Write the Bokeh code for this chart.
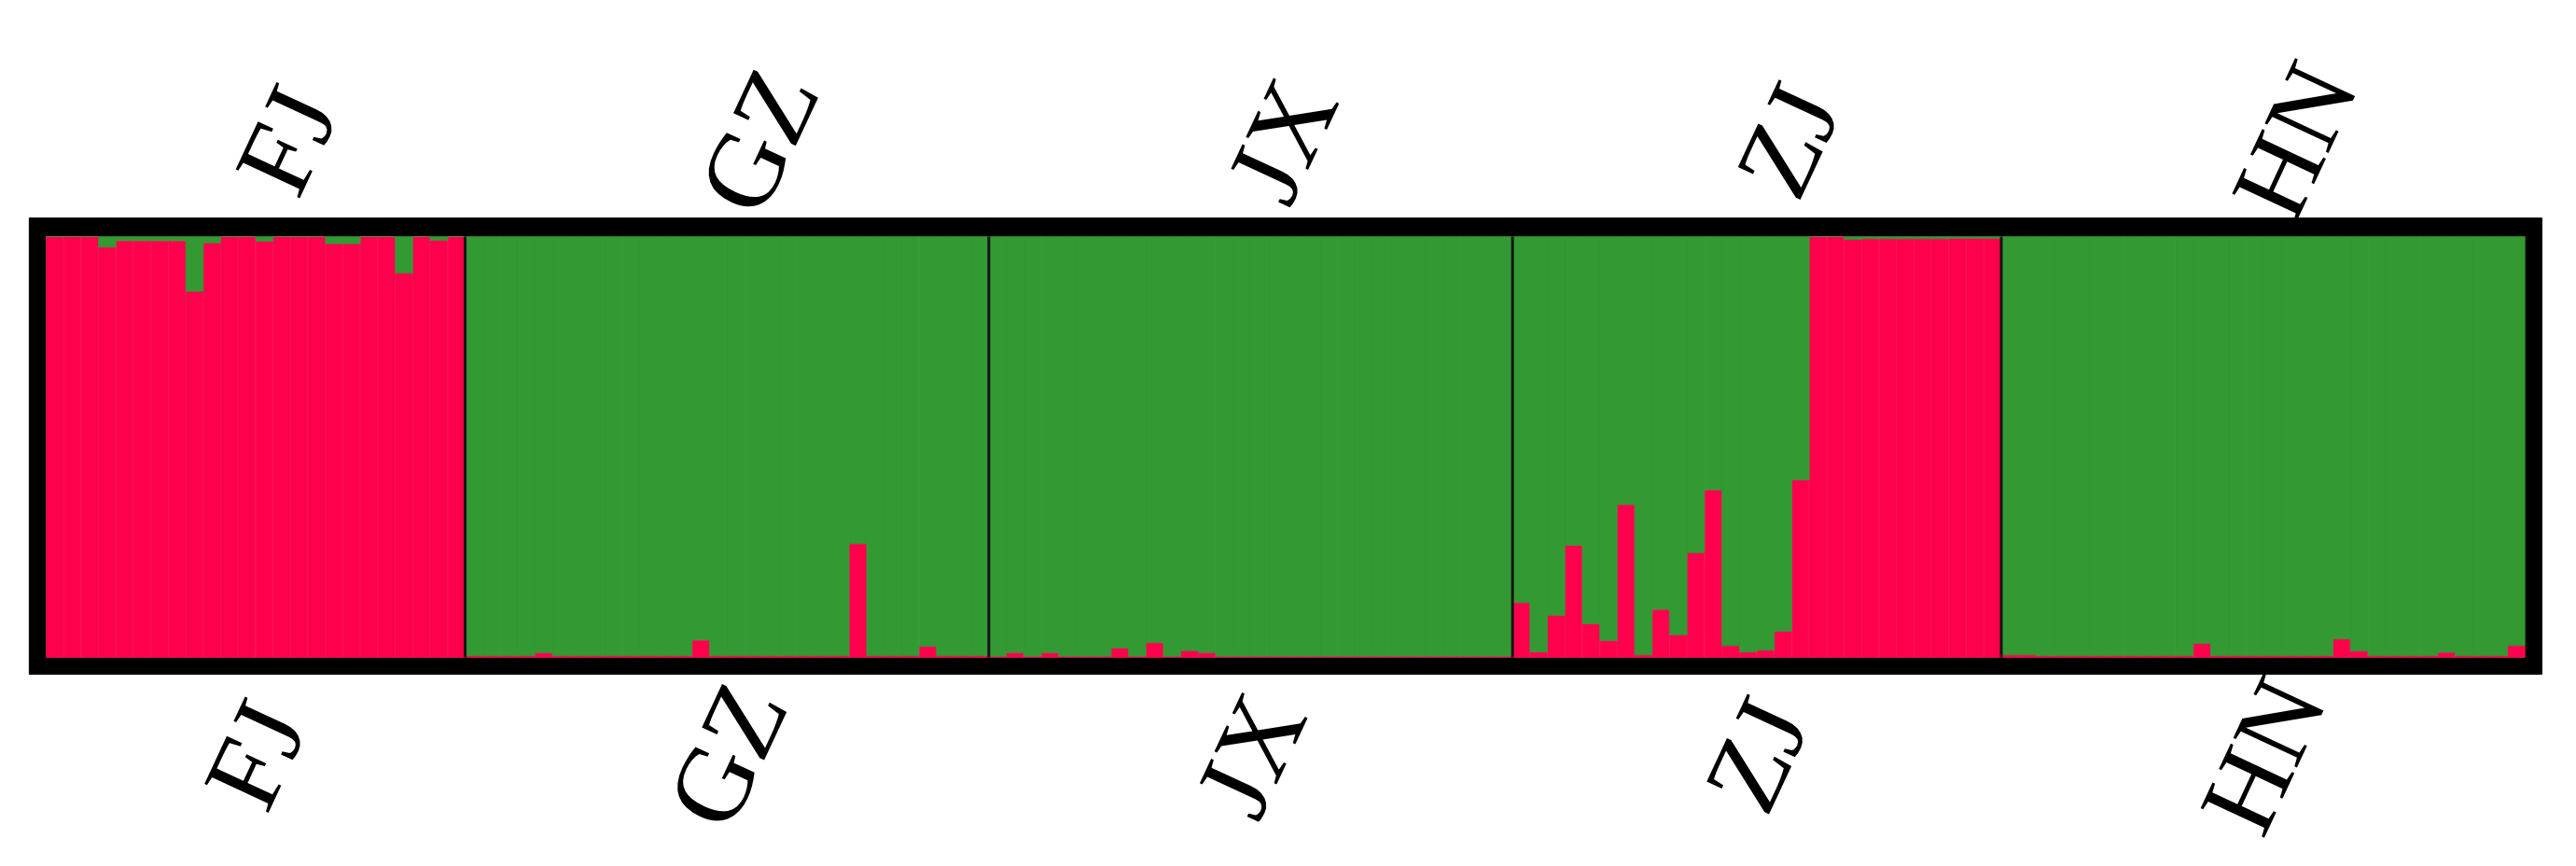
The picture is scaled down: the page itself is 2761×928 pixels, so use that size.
import math
from bokeh.plotting import figure
from bokeh.models import ColumnDataSource, Range1d
from bokeh.core.properties import value
from bokeh.embed import file_html
from bokeh.resources import INLINE

# ---------------- data ----------------
populations = ["FJ", "GZ", "JX", "ZJ", "HN"]

# proportion of cluster 1 (red) for each individual, population by population
fj_red = [1.0, 1.0, 1.0, 0.975, 0.99, 0.99, 0.99, 0.99, 0.87, 0.985, 1.0, 1.0,
          0.989, 1.0, 1.0, 1.0, 0.983, 0.983, 1.0, 1.0, 0.913, 1.0, 0.991, 1.0]
gz_red = [0.004, 0.004, 0.004, 0.004, 0.011, 0.004, 0.004, 0.004, 0.004, 0.004,
          0.004, 0.004, 0.004, 0.041, 0.004, 0.004, 0.004, 0.004, 0.004, 0.004,
          0.004, 0.004, 0.27, 0.004, 0.004, 0.004, 0.026, 0.004, 0.004, 0.004]
jx_red = [0.003, 0.011, 0.003, 0.011, 0.003, 0.003, 0.003, 0.022, 0.003, 0.035,
          0.003, 0.016, 0.011, 0.003, 0.003, 0.003, 0.003, 0.003, 0.003, 0.003,
          0.003, 0.003, 0.003, 0.003, 0.003, 0.003, 0.003, 0.003, 0.003, 0.003]
zj_red = [0.13, 0.013, 0.10, 0.266, 0.08, 0.04, 0.363, 0.006, 0.114, 0.054,
          0.249, 0.398, 0.028, 0.013, 0.017, 0.062, 0.422, 1.0, 1.0, 0.993,
          0.995, 0.995, 0.995, 0.995, 0.995, 0.996, 0.996, 0.996]
hn_red = [0.006, 0.006, 0.004, 0.004, 0.004, 0.004, 0.004, 0.004, 0.004, 0.004,
          0.004, 0.033, 0.004, 0.004, 0.004, 0.004, 0.004, 0.004, 0.004, 0.044,
          0.015, 0.004, 0.004, 0.004, 0.004, 0.012, 0.004, 0.004, 0.004, 0.028]

groups = [fj_red, gz_red, jx_red, zj_red, hn_red]

# ---------------- styling constants ----------------
RED = "#FF004D"
GREEN = "#339933"
RED_EDGE = "#FF2468"
GREEN_EDGE = "#3DA43D"
W, H = 2745, 912
BAR_PX = 18.71          # pixel width of one individual
PLOT_LEFT_PX = 49       # left edge of bars inside figure
PLOT_TOP_PX = 253       # top of bars (y = 1)
UNIT_Y_PX = 451         # pixels for y = 0..1
PAD_X = 0.97            # black frame thickness in bar units
PAD_T, PAD_B = 0.044, 0.040
TOP_LABEL_Y, BOT_LABEL_Y = 1.228, -0.232
TOP_LABEL_DX = 1.8
ANGLE = math.radians(65)
FONT = value("Liberation Serif")
FONT_SIZE = "115px"

# ---------------- derived ----------------
red_all = [v for g in groups for v in g]
N = len(red_all)
xs = [i + 0.5 for i in range(N)]
green_all = [1.0 - v for v in red_all]
src = ColumnDataSource(dict(x=xs, red=red_all, green=green_all))

x0 = -PLOT_LEFT_PX / BAR_PX
x1 = x0 + W / BAR_PX
y1 = 1 + PLOT_TOP_PX / UNIT_Y_PX
y0 = y1 - H / UNIT_Y_PX

p = figure(width=W, height=H, x_range=Range1d(x0, x1), y_range=Range1d(y0, y1),
           output_backend="svg", toolbar_location=None, min_border=0)
p.axis.visible = False
p.grid.visible = False
p.outline_line_color = None
p.background_fill_color = "white"
p.border_fill_color = "white"

# black frame
p.quad(left=-PAD_X, right=N + PAD_X, bottom=-PAD_B, top=1 + PAD_T,
       fill_color="black", line_color="black")

# stacked bars
p.vbar_stack(["red", "green"], x="x", width=1.0, source=src,
             fill_color=[RED, GREEN], line_color=[RED_EDGE, GREEN_EDGE],
             line_width=1, line_alpha=0.55)

# population boundaries
counts = [len(g) for g in groups]
bounds, centers, acc = [], [], 0
for c in counts:
    centers.append(acc + c / 2)
    acc += c
    bounds.append(acc)
bounds = bounds[:-1]
p.segment(x0=bounds, y0=[0] * len(bounds), x1=bounds, y1=[1] * len(bounds),
          line_color="#141414", line_width=3)

# labels above and below
p.text(x=[c + TOP_LABEL_DX for c in centers], y=[TOP_LABEL_Y] * len(centers),
       text=populations, angle=ANGLE, text_align="center", text_baseline="middle",
       text_font=FONT, text_font_size=FONT_SIZE, text_color="black")
p.text(x=centers, y=[BOT_LABEL_Y] * len(centers),
       text=populations, angle=ANGLE, text_align="center", text_baseline="middle",
       text_font=FONT, text_font_size=FONT_SIZE, text_color="black")

open("out.html", "w").write(file_html(p, INLINE))
